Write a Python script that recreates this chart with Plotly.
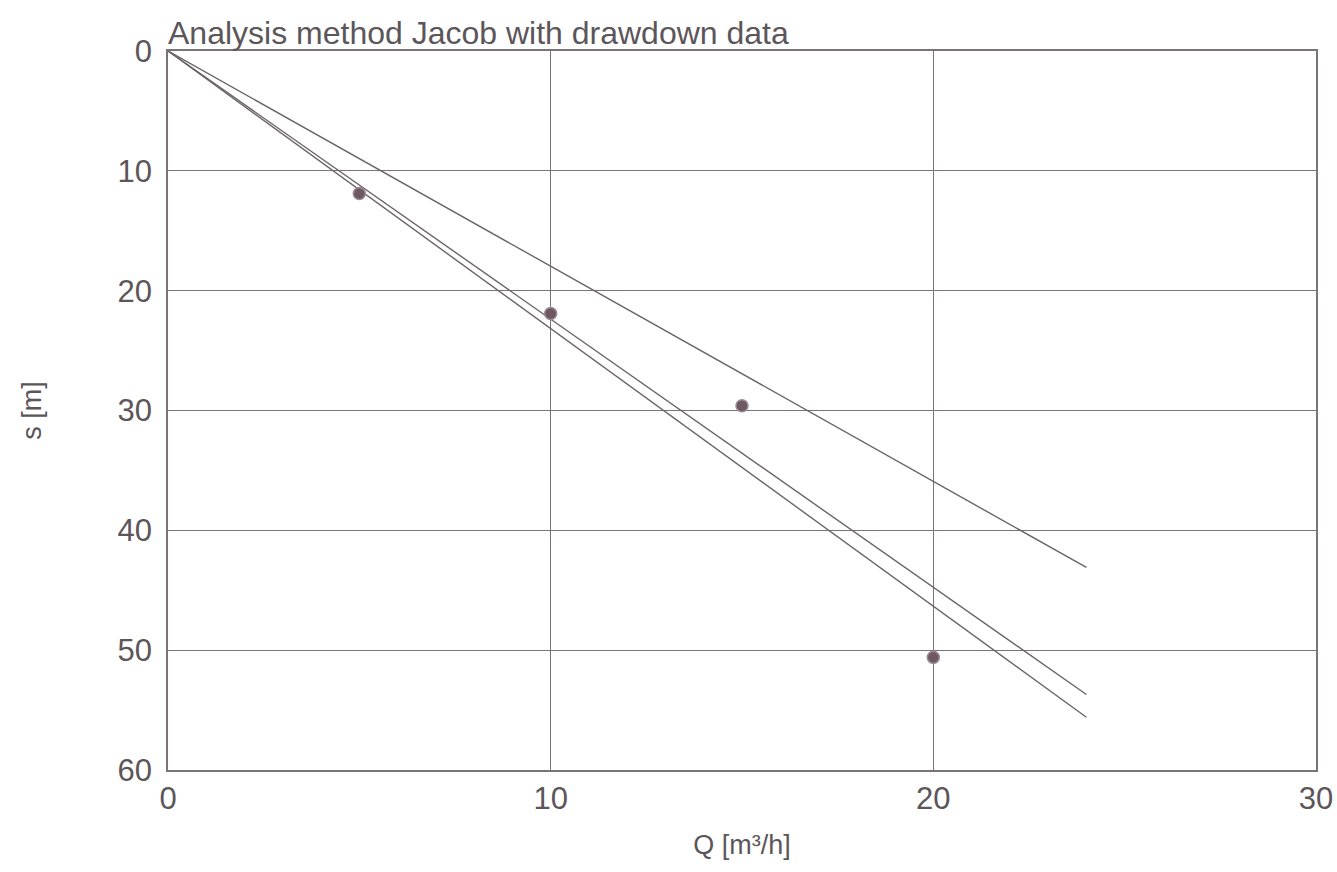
import plotly.graph_objects as go

# Measured drawdown at each pumping rate
q_measured = [5, 10, 15, 20]
s_measured = [11.9, 21.9, 29.6, 50.6]

# Fitted straight lines through the origin (start and end points)
q_line = [0, 24]
s_line_a = [0, 43.1]
s_line_b = [0, 53.7]
s_line_c = [0, 55.6]

x_ticks = [0, 10, 20, 30]
y_ticks = [0, 10, 20, 30, 40, 50, 60]

title_text = "Analysis method Jacob with drawdown data"
x_title = "Q [m³/h]"
y_title = "s [m]"

line_color = "#6a6468"
grid_color = "#7a7478"
text_color = "#5c565a"
font_family = "Liberation Sans, Arial, sans-serif"

fig = go.Figure()

for s_line in (s_line_a, s_line_b, s_line_c):
    fig.add_trace(go.Scatter(
        x=q_line, y=s_line, mode="lines",
        line=dict(color=line_color, width=1.4),
        hoverinfo="skip", showlegend=False,
    ))

fig.add_trace(go.Scatter(
    x=q_measured, y=s_measured, mode="markers",
    marker=dict(size=12, color="#6e5862", line=dict(color="#9a8a92", width=1.5)),
    showlegend=False,
))

axis_common = dict(
    showgrid=True, gridcolor=grid_color, gridwidth=1.3,
    showline=True, linecolor=grid_color, linewidth=1.5, mirror=True,
    zeroline=False, ticks="",
    ticklabeloverflow="allow",
    tickfont=dict(family=font_family, size=31, color=text_color),
)

fig.update_xaxes(
    range=[0, 30], tickvals=x_ticks, ticktext=[str(v) for v in x_ticks],
    title=dict(text=x_title, font=dict(family=font_family, size=27, color=text_color), standoff=20),
    automargin=False,
    **axis_common,
)
fig.update_yaxes(
    range=[60, 0], tickvals=y_ticks, ticktext=[str(v) for v in y_ticks],
    title=dict(text=y_title, font=dict(family=font_family, size=27, color=text_color), standoff=68),
    ticklabelstandoff=8, automargin=True,
    **axis_common,
)

fig.add_annotation(
    text=title_text, xref="paper", yref="paper", x=0, y=1,
    xanchor="left", yanchor="bottom", yshift=-2, xshift=-2, showarrow=False,
    font=dict(family=font_family, size=32, color=text_color),
)

fig.update_layout(
    width=1337, height=872,
    margin=dict(l=168, r=21, t=51, b=102),
    paper_bgcolor="white", plot_bgcolor="white",
)

fig.write_html("out.html")
